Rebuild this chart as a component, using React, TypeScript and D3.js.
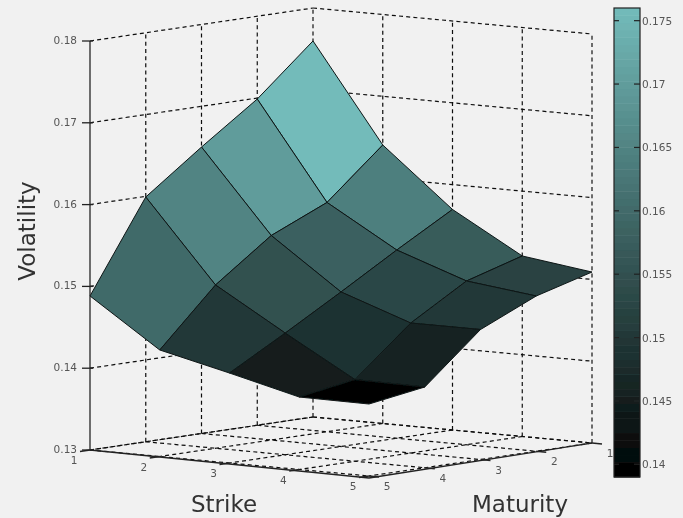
import React from "react";
import * as d3 from "d3";

const strikes = [1, 2, 3, 4, 5];
const maturities = [1, 2, 3, 4, 5];
// vol[maturityIndex][strikeIndex]
const vol = [
  [0.17597, 0.16405, 0.15696, 0.15207, 0.1509],
  [0.16988, 0.15803, 0.15301, 0.15002, 0.14898],
  [0.16502, 0.155, 0.14889, 0.14589, 0.14589],
  [0.15992, 0.14996, 0.14488, 0.13999, 0.13987],
  [0.14883, 0.14302, 0.141, 0.13886, 0.1388],
];
const zTicks = [0.13, 0.14, 0.15, 0.16, 0.17, 0.18];
const barTicks = [0.14, 0.145, 0.15, 0.155, 0.16, 0.165, 0.17, 0.175];
const cLim: [number, number] = [0.139, 0.176];

const FONT = "'DejaVu Sans', Verdana, sans-serif";

const sx = d3.scaleLinear().domain([1, 5]).range([0, 279]);
const sy = d3.scaleLinear().domain([1, 5]).range([0, 26]);
const mx = d3.scaleLinear().domain([1, 5]).range([0, -223]);
const my = d3.scaleLinear().domain([1, 5]).range([0, 33]);
const zy = d3.scaleLinear().domain([0.13, 0.18]).range([0, -409]);

const px = (s: number, m: number) => 313 + sx(s) + mx(m);
const py = (s: number, m: number, z: number) => 417 + sy(s) + my(m) + zy(z);

const color = d3
  .scaleLinear<string>()
  .domain(cLim)
  .range(["#000000", "#73bbba"])
  .clamp(true);
const barY = d3.scaleLinear().domain(cLim).range([477, 8]);

const pt = (s: number, m: number, z: number) => `${px(s, m)},${py(s, m, z)}`;
const zMin = zTicks[0];
const zMax = zTicks[zTicks.length - 1];

export default function App() {
  const dashed = { stroke: "#111", strokeWidth: 1.2, strokeDasharray: "4 3.2", fill: "none" };
  const grid: React.ReactNode[] = [];
  // Floor
  strikes.forEach((s) =>
    grid.push(<line key={`fs${s}`} x1={px(s, 1)} y1={py(s, 1, zMin)} x2={px(s, 5)} y2={py(s, 5, zMin)} {...dashed} />)
  );
  maturities.forEach((m) =>
    grid.push(<line key={`fm${m}`} x1={px(1, m)} y1={py(1, m, zMin)} x2={px(5, m)} y2={py(5, m, zMin)} {...dashed} />)
  );
  // Walls
  zTicks.forEach((z) => {
    grid.push(<line key={`wl${z}`} x1={px(1, 5)} y1={py(1, 5, z)} x2={px(1, 1)} y2={py(1, 1, z)} {...dashed} />);
    grid.push(<line key={`wb${z}`} x1={px(1, 1)} y1={py(1, 1, z)} x2={px(5, 1)} y2={py(5, 1, z)} {...dashed} />);
  });
  maturities.slice(0, 4).forEach((m) =>
    grid.push(<line key={`vm${m}`} x1={px(1, m)} y1={py(1, m, zMin)} x2={px(1, m)} y2={py(1, m, zMax)} {...dashed} />)
  );
  strikes.slice(1).forEach((s) =>
    grid.push(<line key={`vs${s}`} x1={px(s, 1)} y1={py(s, 1, zMin)} x2={px(s, 1)} y2={py(s, 1, zMax)} {...dashed} />)
  );

  // Surface, painted back to front
  const faces: { si: number; mi: number }[] = [];
  for (let mi = 0; mi < 4; mi++) for (let si = 0; si < 4; si++) faces.push({ si, mi });
  faces.sort((a, b) => a.si + a.mi - (b.si + b.mi));

  const axis = { stroke: "#222", strokeWidth: 1.3, fill: "none" };
  const tickText = { fontFamily: FONT, fontSize: 10.5, fill: "#555" };
  const titleText = { fontFamily: FONT, fontSize: 23, fill: "#333" };

  const barSteps = d3.range(64);
  const barStep = (cLim[1] - cLim[0]) / 64;

  return (
    <svg
      width={683}
      height={518}
      viewBox="0 0 683 518"
      style={{ position: "absolute", left: 0, top: 0, background: "#f1f1f1" }}
    >
      <defs>
        <filter id="soft" x="-5%" y="-5%" width="110%" height="110%">
          <feGaussianBlur stdDeviation="0.35" />
        </filter>
      </defs>
      <g filter="url(#soft)">
        {grid}
        {faces.map(({ si, mi }) => {
          const [s, m] = [strikes[si], maturities[mi]];
          const d = [
            pt(s, m, vol[mi][si]),
            pt(s + 1, m, vol[mi][si + 1]),
            pt(s + 1, m + 1, vol[mi + 1][si + 1]),
            pt(s, m + 1, vol[mi + 1][si]),
          ].join(" ");
          return (
            <polygon
              key={`${si}-${mi}`}
              points={d}
              fill={color(vol[mi][si])}
              stroke="#0c1414"
              strokeWidth={1}
              strokeLinejoin="round"
            />
          );
        })}

        {/* Axes */}
        <line x1={px(1, 5)} y1={py(1, 5, zMin)} x2={px(1, 5)} y2={py(1, 5, zMax)} {...axis} />
        <line x1={px(1, 5)} y1={py(1, 5, zMin)} x2={px(5, 5)} y2={py(5, 5, zMin) + 2} {...axis} />
        <line x1={px(5, 5)} y1={py(5, 5, zMin) + 2} x2={px(5, 1)} y2={py(5, 1, zMin)} {...axis} />

        {zTicks.map((z) => (
          <g key={`zt${z}`}>
            <line x1={82} x2={93} y1={py(1, 5, z)} y2={py(1, 5, z)} {...axis} />
            <text x={77} y={py(1, 5, z) + 3} textAnchor="end" {...tickText}>
              {z}
            </text>
          </g>
        ))}
        {strikes.map((s) => (
          <g key={`st${s}`}>
            <line x1={px(s, 5)} y1={py(s, 5, zMin)} x2={px(s, 5) - 10} y2={py(s, 5, zMin) + 1.5} {...axis} />
            <text x={px(s, 5) - 16} y={py(s, 5, zMin) + 14} textAnchor="middle" {...tickText}>
              {s}
            </text>
          </g>
        ))}
        {maturities.map((m) => (
          <g key={`mt${m}`}>
            <line x1={px(5, m)} y1={py(5, m, zMin)} x2={px(5, m) + 10} y2={py(5, m, zMin) + 1} {...axis} />
            <text x={px(5, m) + 18} y={py(5, m, zMin) + 14} textAnchor="middle" {...tickText}>
              {m}
            </text>
          </g>
        ))}

        <text x={224} y={512} textAnchor="middle" {...titleText}>Strike</text>
        <text x={520} y={512} textAnchor="middle" {...titleText}>Maturity</text>
        <text transform="translate(35,231) rotate(-90)" textAnchor="middle" {...titleText}>Volatility</text>

        {/* Colorbar */}
        {barSteps.map((k) => (
          <rect
            key={k}
            x={614}
            width={26}
            y={barY(cLim[0] + (k + 1) * barStep)}
            height={barY(cLim[0]) - barY(cLim[0] + barStep) + 0.5}
            fill={color(cLim[0] + (k + 0.5) * barStep)}
          />
        ))}
        <rect x={614} y={8} width={26} height={469} fill="none" stroke="#222" strokeWidth={1.2} />
        {barTicks.map((t) => (
          <g key={`bt${t}`}>
            <line x1={614} x2={619} y1={barY(t)} y2={barY(t)} stroke="#222" strokeWidth={1.2} />
            <line x1={634} x2={640} y1={barY(t)} y2={barY(t)} stroke="#222" strokeWidth={1.2} />
            <text x={642} y={barY(t) + 4} {...tickText}>
              {t}
            </text>
          </g>
        ))}
      </g>
    </svg>
  );
}
